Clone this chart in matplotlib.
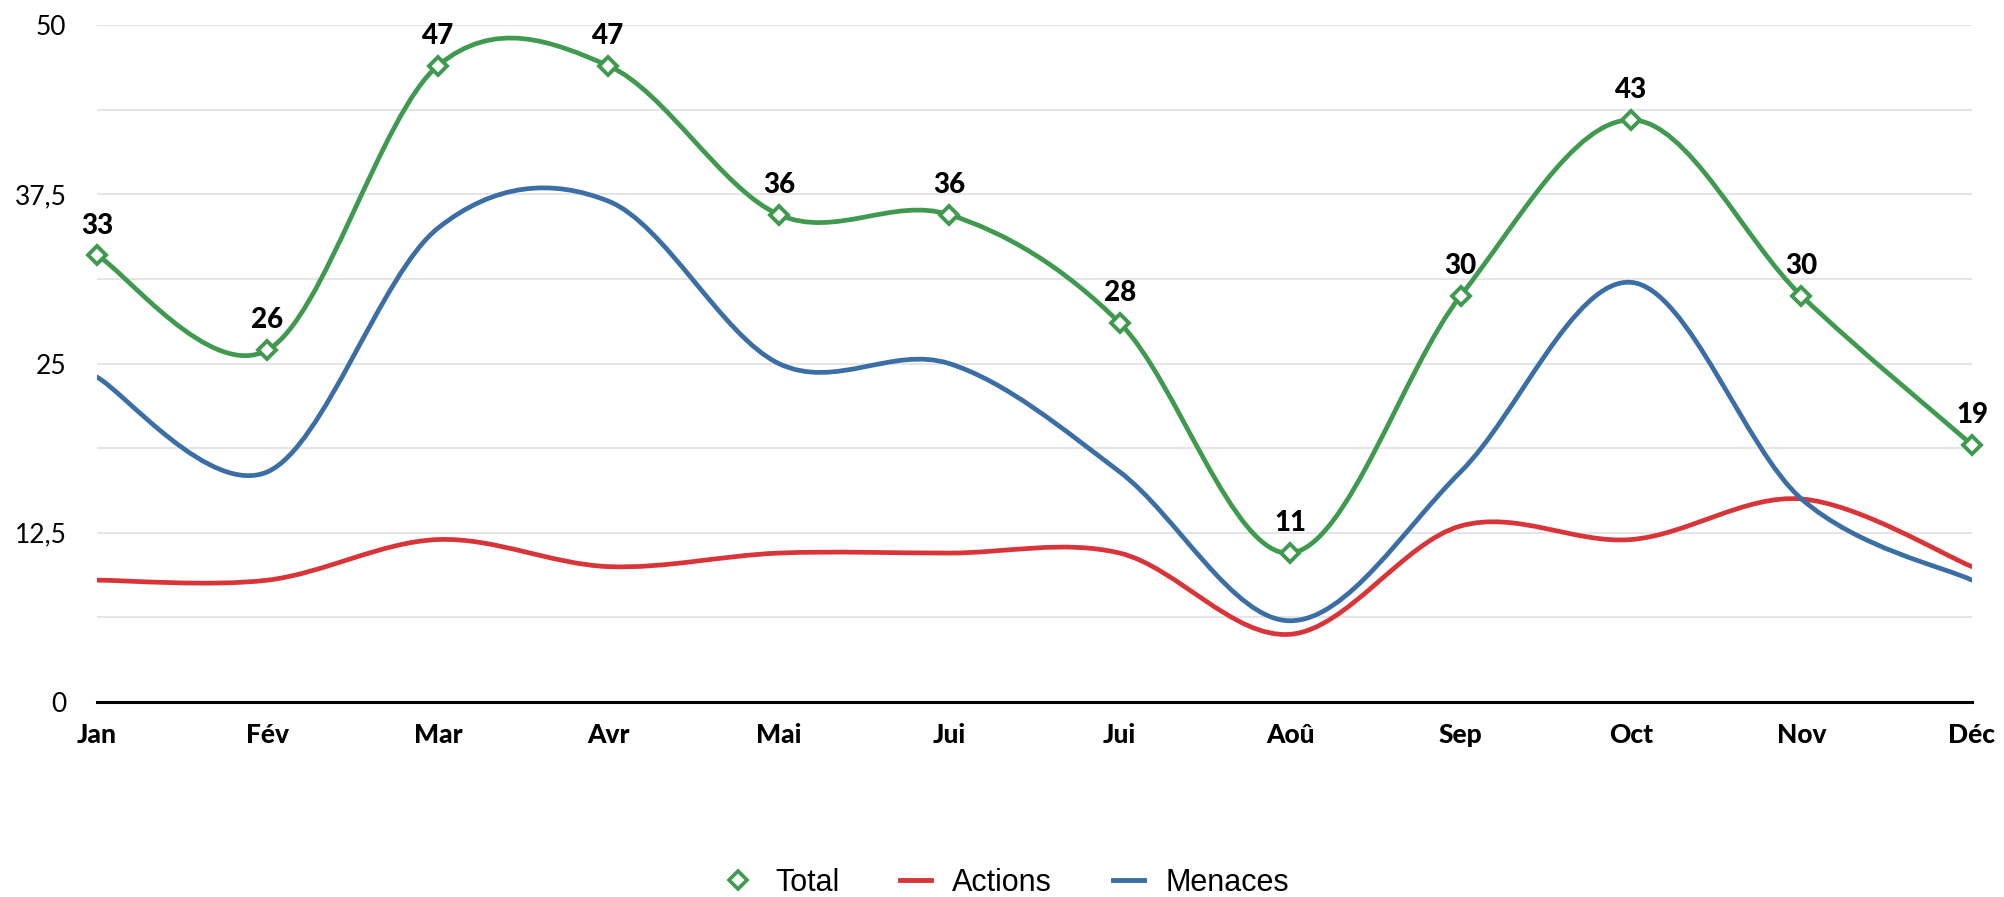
import numpy as np
import matplotlib
matplotlib.use("Agg")
import matplotlib.pyplot as plt
from matplotlib.path import Path
from matplotlib.patches import PathPatch
from matplotlib.lines import Line2D

months = ["Jan", "Fév", "Mar", "Avr", "Mai", "Jui", "Jui", "Aoû", "Sep", "Oct", "Nov", "Déc"]
total = [33, 26, 47, 47, 36, 36, 28, 11, 30, 43, 30, 19]
actions = [9, 9, 12, 10, 11, 11, 11, 5, 13, 12, 15, 10]
menaces = [24, 17, 35, 37, 25, 25, 17, 6, 17, 31, 15, 9]
yticks = [0, 12.5, 25, 37.5, 50]
ytick_labels = ["0", "12,5", "25", "37,5", "50"]

GREEN = "#3f9a4f"
RED = "#d93538"
BLUE = "#3a6ea5"

fig = plt.figure(figsize=(20.04, 8.97), dpi=100)
ax = fig.add_axes([0.0484, 0.2174, 0.9356, 0.7546])


def smooth_path(xs, ys):
    pts = np.column_stack([xs, ys]).astype(float)
    n = len(pts)
    verts = [pts[0]]
    codes = [Path.MOVETO]
    for i in range(n - 1):
        p0 = pts[i - 1] if i > 0 else pts[i]
        p1 = pts[i]
        p2 = pts[i + 1]
        p3 = pts[i + 2] if i + 2 < n else pts[i + 1]
        c1 = p1 + (p2 - p0) / 6.0
        c2 = p2 - (p3 - p1) / 6.0
        verts += [c1, c2, p2]
        codes += [Path.CURVE4] * 3
    return Path(verts, codes)


x = np.arange(len(months))
for ys, col, z in [(actions, RED, 3), (menaces, BLUE, 4), (total, GREEN, 5)]:
    ax.add_patch(PathPatch(smooth_path(x, ys), facecolor="none", edgecolor=col,
                           lw=3.4, zorder=z, capstyle="round", joinstyle="round"))

ax.plot(x, total, linestyle="none", marker="D", markersize=9.5, markerfacecolor="white",
        markeredgecolor=GREEN, markeredgewidth=2.8, zorder=6, clip_on=False)

for xi, v in zip(x, total):
    ax.annotate(str(v), (xi, v), xytext=(0, 12), textcoords="offset points",
                ha="center", va="bottom", fontsize=20, fontweight="black",
                family="Lato", color="black", zorder=7, annotation_clip=False)

ax.set_xlim(0, 11)
ax.set_ylim(0, 50)
ax.set_yticks(yticks)
ax.set_yticklabels(ytick_labels, family="Lato", fontsize=19)
ax.set_yticks(np.arange(0, 50.01, 6.25), minor=True)
ax.set_xticks(x)
ax.set_xticklabels(months, family="Lato", fontsize=19, fontweight="black")
ax.tick_params(axis="both", which="both", length=0)
ax.tick_params(axis="y", pad=22)
ax.tick_params(axis="x", pad=15)
ax.grid(axis="y", which="both", color="#e3e3e3", lw=1.3, zorder=0)
ax.set_axisbelow(True)
for s in ["top", "right", "left"]:
    ax.spines[s].set_visible(False)
ax.spines["bottom"].set_color("black")
ax.spines["bottom"].set_linewidth(2.2)
ax.spines["bottom"].set_zorder(2)

handles = [
    Line2D([], [], color=GREEN, lw=0, marker="D", markersize=9, markerfacecolor="white",
           markeredgecolor=GREEN, markeredgewidth=2.6),
    Line2D([], [], color=RED, lw=3.5),
    Line2D([], [], color=BLUE, lw=3.5),
]
fig.legend(handles, ["Total", "Actions", "Menaces"], loc="center",
           bbox_to_anchor=(0.502, 0.016), ncol=3, frameon=False,
           prop={"family": "Liberation Sans", "size": 22},
           handlelength=1.0, columnspacing=2.0, handletextpad=0.7)

fig.savefig("out.png", dpi=100)
